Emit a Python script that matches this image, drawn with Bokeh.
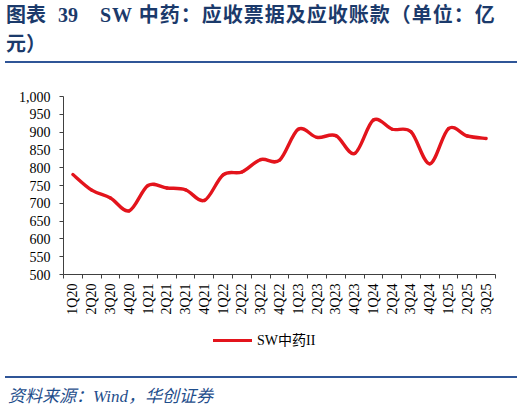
import numpy as np
from bokeh.plotting import figure
from bokeh.layouts import column
from bokeh.models import Range1d, FixedTicker, NumeralTickFormatter, Div
from bokeh.embed import file_html
from bokeh.resources import INLINE

# data (accounts & notes receivable, 100m CNY)
quarters = ["1Q20", "2Q20", "3Q20", "4Q20", "1Q21", "2Q21", "3Q21", "4Q21",
            "1Q22", "2Q22", "3Q22", "4Q22", "1Q23", "2Q23", "3Q23", "4Q23",
            "1Q24", "2Q24", "3Q24", "4Q24", "1Q25", "2Q25", "3Q25"]
receivables = [781, 737, 715, 679, 750, 743, 738, 708, 780, 788, 823, 821,
               908, 885, 890, 840, 934, 908, 901, 811, 910, 889, 882]
y_ticks = [500, 550, 600, 650, 700, 750, 800, 850, 900, 950, 1000]
series_name = "SW中药II"

TITLE_BLUE = "#1b3a6b"
RULE_BLUE = "#2f5597"
RED = "#e3141c"
SERIF_CJK = "'Liberation Serif', 'Noto Sans CJK SC'"

# headline + blue rule
title = Div(width=520, height=64, margin=0, text=(
    f'<div style="font-family:{SERIF_CJK};font-weight:bold;font-size:20px;'
    f'line-height:29px;color:{TITLE_BLUE};padding:1px 0 0 6px;white-space:nowrap;">'
    '<span style="display:inline-block;width:52px">图表</span>'
    '<span style="display:inline-block;width:42px">39</span>'
    '<span style="letter-spacing:1px">SW 中药：应收票据及应收账款（单位：亿</span><br>'
    '元）</div>'
    f'<div style="margin:2px 0 0 5px;width:512px;height:2px;background:{RULE_BLUE}"></div>'
))

# chart: frame spans x 63..495, y 96..274 of the page
p = figure(frame_width=432, frame_height=178, output_backend="svg",
           toolbar_location=None,
           x_range=Range1d(-0.5, len(quarters) - 0.5), y_range=Range1d(500, 1000),
           min_border_left=63, min_border_right=21, min_border_top=32,
           min_border_bottom=44)
p.outline_line_color = None
p.grid.visible = False

# smooth line (like Excel's smoothed series) as cubic bezier segments
xs = np.arange(len(receivables), dtype=float)
ys = np.array(receivables, dtype=float)
xp = np.concatenate([[xs[0]], xs, [xs[-1]]])
yp = np.concatenate([[ys[0]], ys, [ys[-1]]])
n = len(xs) - 1
cx0 = xs[:-1] + (xp[2:n + 2] - xp[0:n]) / 6
cy0 = ys[:-1] + (yp[2:n + 2] - yp[0:n]) / 6
cx1 = xs[1:] - (xp[3:n + 3] - xp[1:n + 1]) / 6
cy1 = ys[1:] - (yp[3:n + 3] - yp[1:n + 1]) / 6
p.bezier(x0=xs[:-1], y0=ys[:-1], x1=xs[1:], y1=ys[1:],
         cx0=cx0, cy0=cy0, cx1=cx1, cy1=cy1,
         line_color=RED, line_width=3.4, line_cap="round")

# x axis: labels at centers, tick marks at category boundaries
p.xaxis.ticker = FixedTicker(ticks=list(range(len(quarters))),
                             minor_ticks=[i - 0.5 for i in range(len(quarters) + 1)])
p.xaxis.major_label_overrides = {i: q for i, q in enumerate(quarters)}
p.xaxis.major_label_orientation = np.pi / 2
p.xaxis.major_tick_out = 0
p.xaxis.major_tick_in = 0
p.xaxis.minor_tick_out = 4
p.xaxis.minor_tick_in = 0
p.xaxis.major_label_standoff = 5

p.yaxis.ticker = FixedTicker(ticks=y_ticks)
p.yaxis.formatter = NumeralTickFormatter(format="0,0")
p.yaxis.major_tick_out = 4
p.yaxis.major_tick_in = 0
p.yaxis.minor_tick_out = 0
p.yaxis.minor_tick_in = 0
p.yaxis.major_label_standoff = 9

for ax in (p.xaxis, p.yaxis):
    ax.axis_line_color = "#404040"
    ax.major_tick_line_color = "#404040"
    ax.minor_tick_line_color = "#404040"
    ax.major_label_text_font = "Liberation Serif"
    ax.major_label_text_font_size = "14px"
    ax.major_label_text_color = "black"

# legend row under the chart
legend = Div(width=520, height=52, margin=0, text=(
    '<div style="padding:14px 0 0 213px;line-height:16px;white-space:nowrap;'
    f'font-family:{SERIF_CJK};font-size:14px;color:black;">'
    f'<span style="display:inline-block;width:39px;height:3.4px;background:{RED};'
    'vertical-align:middle;margin-right:5px;"></span>'
    f'<span style="vertical-align:middle">{series_name}</span></div>'
))

# blue rule + source line
source = Div(width=520, height=40, margin=0, text=(
    f'<div style="margin:6px 0 0 5px;width:512px;height:2px;background:{RULE_BLUE}"></div>'
    f'<div style="margin:8px 0 0 8px;font-family:{SERIF_CJK};font-style:italic;'
    'font-size:17px;line-height:22px;color:#1f4e8c;white-space:nowrap;">'
    '资料来源：Wind，华创证券</div>'
))

layout = column(title, p, legend, source, spacing=0)
open("out.html", "w").write(file_html(layout, INLINE))
